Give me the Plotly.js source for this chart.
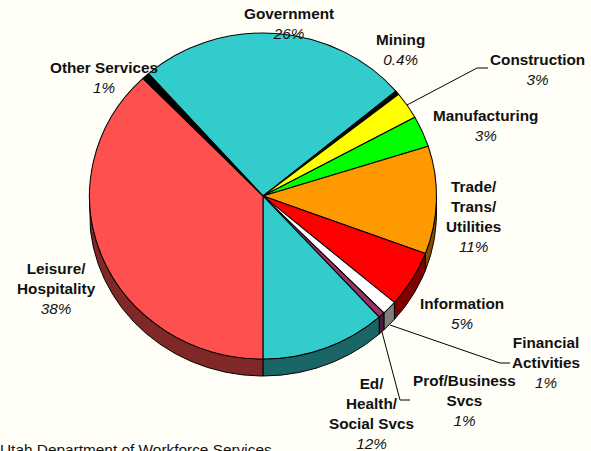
<!DOCTYPE html>
<html>
<head>
<meta charset="utf-8">
<script src="https://cdn.plot.ly/plotly-3.0.1.min.js"></script>
<style>html,body{margin:0;padding:0;background:#FFFFF8;overflow:hidden}</style>
</head>
<body>
<div id="chart" style="width:591px;height:451px"></div>
<script>
// Data (clockwise from Government)
var categories = ["Government","Mining","Construction","Manufacturing","Trade/Trans/Utilities","Information","Financial Activities","Prof/Business Svcs","Ed/Health/Social Svcs","Leisure/Hospitality","Other Services"];
var values = [25.4,0.4,2.7,3.1,10.7,5.6,1.4,0.6,11.7,37.9,0.7];
var percentLabels = ["26%","0.4%","3%","3%","11%","5%","1%","1%","12%","38%","1%"];
var nameLines = ["Government","Mining","Construction","Manufacturing","Trade/<br>Trans/<br>Utilities","Information","Financial<br>Activities","Prof/Business<br>Svcs","Ed/<br>Health/<br>Social Svcs","Leisure/<br>Hospitality","Other Services"];
var topColors = ["#33CCCC","#000000","#FFFF00","#00FF00","#FF9900","#FF0000","#FFFFFF","#993366","#33CCCC","#FF5050","#000000"];
var wallColors = ["#1A6666","#000000","#808000","#008000","#804D00","#800000","#808080","#4D1A33","#1A6666","#802828","#000000"];
var sourceText = "Utah Department of Workforce Services";

// Layout constants (pixels)
var cx = 263, cy = 196, rx = 173.5, ry = 163, depth = 17, r = 168, startAngle = -41.3;
var labelX = [288.5,400,537,485,473,462,546,464,371.5,56,104];
var labelY = [23.5,49.5,69,125,216.5,313,362.5,400,413,288.5,77];
var leaders = [
  {x:[407,477,488], y:[105,68,68]},
  {x:[390,500,510], y:[325,363,363]},
  {x:[382,400,410], y:[332,400,400]}
];

var total = values.reduce(function(a,b){return a+b;},0);
var traces = [];
var acc = 0;
values.forEach(function(v,i){
  var a0 = startAngle + acc/total*360, a1 = a0 + v/total*360;
  acc += v;
  var xs=[], ys=[], lo, hi, t;
  for (var k=-1;k<=1;k++){
    lo = Math.max(a0,90+360*k); hi = Math.min(a1,270+360*k);
    if (hi>lo){
      var n = Math.ceil((hi-lo)*2)+1, j;
      for (j=0;j<n;j++){ t=(lo+(hi-lo)*j/(n-1))*Math.PI/180; xs.push(cx+rx*Math.sin(t)); ys.push(cy-ry*Math.cos(t)); }
      for (j=n-1;j>=0;j--){ t=(lo+(hi-lo)*j/(n-1))*Math.PI/180; xs.push(cx+rx*Math.sin(t)); ys.push(cy-ry*Math.cos(t)+depth); }
      xs.push(xs[0]); ys.push(ys[0]);
    }
  }
  if (xs.length) traces.push({type:"scatter",mode:"lines",x:xs,y:ys,fill:"toself",fillcolor:wallColors[i],
    line:{color:"#000",width:1},hoverinfo:"skip",showlegend:false,name:categories[i]});
});
leaders.forEach(function(l){
  traces.push({type:"scatter",mode:"lines",x:l.x,y:l.y,line:{color:"#000",width:1},hoverinfo:"skip",showlegend:false});
});
traces.push({
  type:"pie",labels:categories,values:values,sort:false,direction:"clockwise",rotation:startAngle,
  marker:{colors:topColors,line:{color:"#000",width:1}},textinfo:"none",showlegend:false,automargin:false,
  domain:{x:[(cx-r)/591,(cx+r)/591],y:[(451-cy-r)/451,(451-cy+r)/451]}
});

var font = {family:"Liberation Sans, Arial, sans-serif",size:15.3,color:"#111"};
var annotations = categories.map(function(c,i){
  return {xref:"x",yref:"y",x:labelX[i],y:labelY[i],showarrow:false,xanchor:"center",yanchor:"middle",align:"center",
    text:"<b>"+nameLines[i]+"</b><br><i>"+percentLabels[i]+"</i>",font:font};
});
annotations.push({xref:"paper",yref:"paper",x:0,y:0,xanchor:"left",yanchor:"top",yshift:11,showarrow:false,
  text:sourceText,font:{family:font.family,size:15.4,color:"#111"},borderpad:0,xshift:-1});

var layout = {
  width:591,height:451,margin:{l:0,r:0,t:0,b:0},paper_bgcolor:"#FFFFF8",plot_bgcolor:"#FFFFF8",showlegend:false,
  xaxis:{range:[0,591],visible:false,fixedrange:true},
  yaxis:{range:[451,0],visible:false,fixedrange:true},
  annotations:annotations
};
Plotly.newPlot("chart",traces,layout,{displayModeBar:false,staticPlot:true}).then(function(gd){
  var s="translate("+cx+","+cy+") scale("+(rx/r)+","+(ry/r)+") translate("+(-cx)+","+(-cy)+")";
  var p=gd.querySelector(".pielayer"); if(p) p.setAttribute("transform",s);
});
</script>
</body>
</html>
